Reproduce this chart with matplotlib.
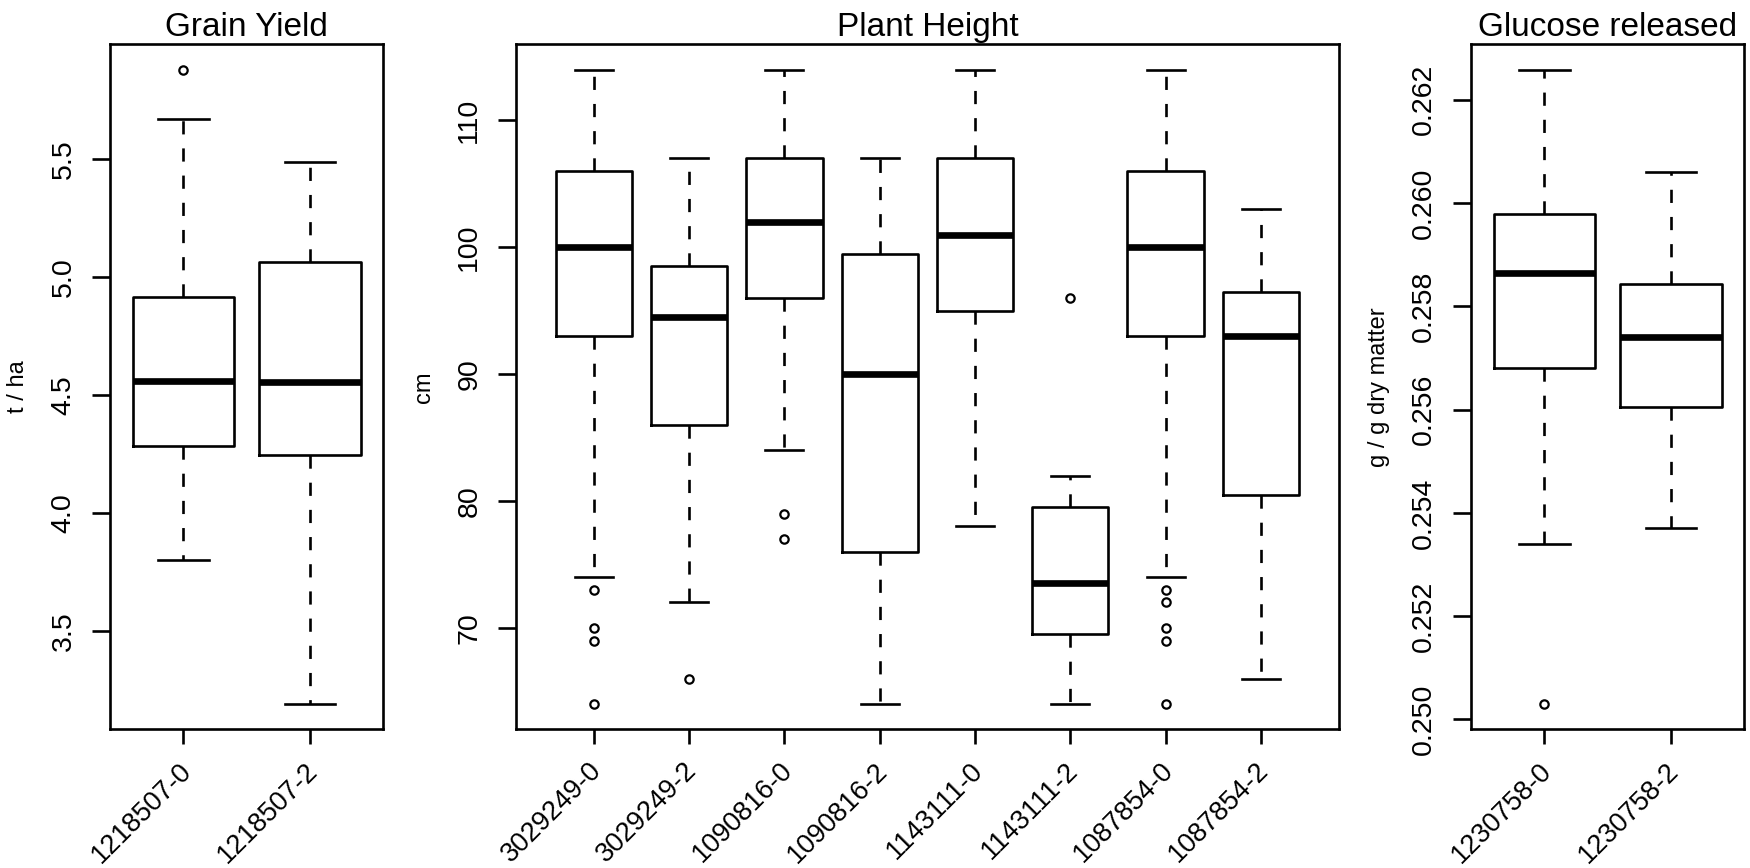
import numpy as np
import matplotlib
matplotlib.use("Agg")
import matplotlib.pyplot as plt
import matplotlib.transforms as mtransforms
from matplotlib.ticker import MultipleLocator, FormatStrFormatter

plt.rcParams['font.family'] = ['Liberation Sans', 'DejaVu Sans']

# ---- data ----
grain_labels = ["1218507-0", "1218507-2"]
grain_whislo = [3.80, 3.19]
grain_q1 = [4.285, 4.245]
grain_med = [4.56, 4.555]
grain_q3 = [4.915, 5.065]
grain_whishi = [5.67, 5.49]
grain_fliers = [[5.88], []]

plant_labels = ["3029249-0", "3029249-2", "1090816-0", "1090816-2",
                "1143111-0", "1143111-2", "1087854-0", "1087854-2"]
plant_whislo = [74, 72, 84, 64, 78, 64, 74, 66]
plant_q1 = [93, 86, 96, 76, 95, 69.5, 93, 80.5]
plant_med = [100, 94.5, 102, 90, 101, 73.5, 100, 93]
plant_q3 = [106, 98.5, 107, 99.5, 107, 79.5, 106, 96.5]
plant_whishi = [114, 107, 114, 107, 114, 82, 114, 103]
plant_fliers = [[73, 70, 69, 64], [66], [79, 77], [], [], [96],
                [73, 72, 70, 69, 64], []]

glu_labels = ["1230758-0", "1230758-2"]
glu_whislo = [0.2534, 0.25371]
glu_q1 = [0.25681, 0.25605]
glu_med = [0.25864, 0.2574]
glu_q3 = [0.25979, 0.25844]
glu_whishi = [0.26258, 0.26059]
glu_fliers = [[0.2503], []]

W, H = 1750, 868
fig = plt.figure(figsize=(W / 100, H / 100), dpi=100)

top_px, bot_px = 44.3, 729.3
panels = [
    # left px, width px, title, ylabel, data, tick step, fmt
    (110.0, 273.3, "Grain Yield", "t / ha",
     (grain_labels, grain_whislo, grain_q1, grain_med, grain_q3, grain_whishi, grain_fliers),
     0.5, "%.1f"),
    (515.7, 823.3, "Plant Height", "cm",
     (plant_labels, plant_whislo, plant_q1, plant_med, plant_q3, plant_whishi, plant_fliers),
     10, "%d"),
    (1470.7, 273.6, "Glucose released", "g / g dry matter",
     (glu_labels, glu_whislo, glu_q1, glu_med, glu_q3, glu_whishi, glu_fliers),
     0.002, "%.3f"),
]

LW = 1.9
shift = mtransforms.ScaledTranslation(4 / 100, 0, fig.dpi_scale_trans)

for left, width, title, ylabel, data, step, fmt in panels:
    labels, wlo, q1, med, q3, whi, fl = data
    ax = fig.add_axes([left / W, 1 - bot_px / H, width / W, (bot_px - top_px) / H])
    stats = []
    for i in range(len(labels)):
        stats.append(dict(label=labels[i], whislo=wlo[i], q1=q1[i], med=med[i],
                          q3=q3[i], whishi=whi[i], fliers=fl[i]))
    ax.bxp(stats, widths=0.8, capwidths=0.4, patch_artist=False,
           boxprops=dict(color="black", lw=LW),
           medianprops=dict(color="black", lw=4.8, solid_capstyle="butt"),
           whiskerprops=dict(color="black", lw=LW, linestyle=(0, (5, 5.3))),
           capprops=dict(color="black", lw=LW),
           flierprops=dict(marker="o", markersize=6, markerfacecolor="none",
                           markeredgecolor="black", markeredgewidth=1.6))

    # R style axis ranges: 4% padding
    n = len(labels)
    ax.set_xlim(0.5 - 0.04 * n, n + 0.5 + 0.04 * n)
    allv = list(wlo) + list(whi) + [v for f in fl for v in f]
    lo, hi = min(allv), max(allv)
    rng = hi - lo
    ax.set_ylim(lo - 0.04 * rng, hi + 0.04 * rng)

    ax.yaxis.set_major_locator(MultipleLocator(step))
    ax.yaxis.set_major_formatter(FormatStrFormatter(fmt))
    for s in ax.spines.values():
        s.set_linewidth(LW)
    ax.tick_params(axis="y", direction="out", length=13, width=LW,
                   labelsize=20.5, pad=11, labelrotation=90)
    for t in ax.get_yticklabels():
        t.set_va("center")
    ax.tick_params(axis="x", direction="out", length=10.5, width=LW,
                   labelsize=19.5, pad=16.5)
    ax.set_xticks(range(1, n + 1))
    ax.set_xticklabels(labels, rotation=45, ha="right", va="center",
                       rotation_mode="anchor")
    for t in ax.get_xticklabels():
        t.set_transform(t.get_transform() + shift)
    ax.set_title(title, fontsize=24, pad=6)
    fig.text((left - 92) / W, 1 - (top_px + bot_px) / 2 / H, ylabel,
             rotation=90, ha="center", va="center", fontsize=17)

fig.savefig("out.png", dpi=100)
